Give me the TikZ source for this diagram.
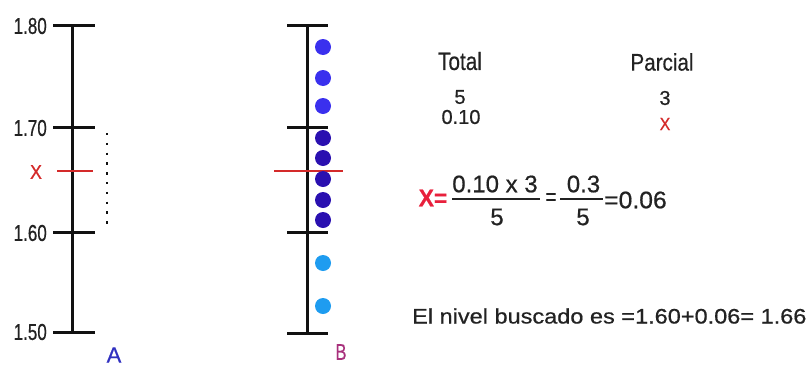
\documentclass[tikz,border=0pt]{standalone}
\usepackage{fontspec}
\usepackage{graphicx}
\setmainfont{Liberation Sans}[FakeBold=0.6]
\definecolor{axis}{HTML}{111111}
\definecolor{redx}{HTML}{D42A2A}
\definecolor{redf}{HTML}{E8203C}
\definecolor{dotA}{HTML}{3A30EE}
\definecolor{dotB}{HTML}{2A10B0}
\definecolor{dotC}{HTML}{1E9CF0}
\definecolor{labA}{HTML}{3030C0}
\definecolor{labB}{HTML}{A8307C}
\definecolor{txt}{HTML}{222222}
\newcommand\sx[2]{\scalebox{#1}[1]{#2}}
\begin{document}
\begin{tikzpicture}[x=1pt,y=-1pt,
  axisline/.style={line width=3pt,draw=axis},
  tickline/.style={line width=3pt,draw=axis},
  redline/.style={line width=1.4pt,draw=redx},
  ticklab/.style={anchor=east,inner sep=0pt,text=txt,font=\fontsize{23}{23}\selectfont},
  ball/.style={circle,inner sep=0pt,minimum size=16pt},
  word/.style={inner sep=0pt,text=txt},
  fracbar/.style={line width=1.4pt,draw=txt},
]
\useasboundingbox (0,0) rectangle (806,370);
% ---- scale A
\coordinate (a1) at (72,25);
\coordinate (a2) at (72,127);
\coordinate (a3) at (72,232);
\coordinate (a4) at (72,332);
\draw[axisline] (a1) -- (a4);
\foreach \p in {a1,a2,a3,a4}{\draw[tickline] ([xshift=-19pt]\p) -- ([xshift=23pt]\p);}
\node[ticklab] (l180) at (47,26) {\sx{0.74}{1.80}};
\node[ticklab] (l170) at (47,128) {\sx{0.74}{1.70}};
\node[ticklab] (l160) at (47,233) {\sx{0.74}{1.60}};
\node[ticklab] (l150) at (47,332) {\sx{0.74}{1.50}};
\coordinate (ra1) at (57,171);
\coordinate (ra2) at (93,171);
\draw[redline] (ra1) -- (ra2);
\node[inner sep=0pt,text=redx,font=\fontsize{20}{20}\selectfont] (xa) at (36,172) {\sx{0.9}{X}};
\coordinate (d1) at (107,133);
\coordinate (d2) at (107,229);
\draw[line width=2.6pt,draw=axis,dash pattern=on 2.4pt off 7.4pt] (d1) -- (d2);
\node[inner sep=0pt,text=labA,font=\fontsize{22}{22}\selectfont] (labelA) at (114,355) {A};
% ---- scale B
\coordinate (b1) at (307,25);
\coordinate (b2) at (307,127);
\coordinate (b3) at (307,232);
\coordinate (b4) at (307,333);
\draw[axisline] (b1) -- (b4);
\foreach \p in {b1,b2,b3,b4}{\draw[tickline] ([xshift=-20pt]\p) -- ([xshift=21pt]\p);}
\coordinate (rb1) at (274,171);
\coordinate (rb2) at (343,171);
\draw[redline] (rb1) -- (rb2);
\foreach \y/\c [count=\i] in {47/dotA,78/dotA,106/dotA,138/dotB,158/dotB,179/dotB,200/dotB,220/dotB,263/dotC,306/dotC}
  {\node[ball,fill=\c] (ball\i) at (323,\y) {};}
\node[inner sep=0pt,text=labB,font=\fontsize{23}{23}\selectfont] (labelB) at (341,352) {\sx{0.72}{B}};
% ---- table
\node[word,font=\fontsize{25}{25}\selectfont] (total) at (460,61) {\sx{0.83}{Total}};
\node[word,font=\fontsize{24}{24}\selectfont] (parcial) at (662,62) {\sx{0.86}{Parcial}};
\node[word,font=\fontsize{20}{20}\selectfont] (t5) at (460,97) {5};
\node[word,font=\fontsize{20}{20}\selectfont] (t010) at (461,117) {0.10};
\node[word,font=\fontsize{20}{20}\selectfont] (p3) at (665,98) {3};
\node[inner sep=0pt,text=redx,font=\fontsize{18}{18}\selectfont] (px) at (665,124) {\sx{0.9}{X}};
% ---- formula
\node[inner sep=0pt,text=redf,font=\fontsize{24}{24}\bfseries\selectfont] (fx) at (433,198) {\sx{0.95}{X=}};
\node[word,font=\fontsize{24}{24}\selectfont] (n1) at (495,184) {0.10 x 3};
\coordinate (bar1l) at (452,199);
\coordinate (bar1r) at (540,199);
\draw[fracbar] (bar1l) -- (bar1r);
\node[word,font=\fontsize{24}{24}\selectfont] (dd1) at (497,217) {5};
\node[word,font=\fontsize{24}{24}\selectfont] (eq1) at (551,199) {\sx{0.8}{=}};
\node[word,font=\fontsize{24}{24}\selectfont] (n2) at (583.5,184) {0.3};
\coordinate (bar2l) at (560,199);
\coordinate (bar2r) at (603,199);
\draw[fracbar] (bar2l) -- (bar2r);
\node[word,font=\fontsize{24}{24}\selectfont] (dd2) at (583,217) {5};
\node[word,font=\fontsize{24}{24}\selectfont,anchor=west] (res) at (604,200) {\sx{1.03}{=0.06}};
% ---- conclusion
\node[word,font=\fontsize{21}{21}\selectfont,anchor=west] (concl) at (412,316) {\sx{1.12}{El nivel buscado es =1.60+0.06= 1.66}};
\end{tikzpicture}
\end{document}
